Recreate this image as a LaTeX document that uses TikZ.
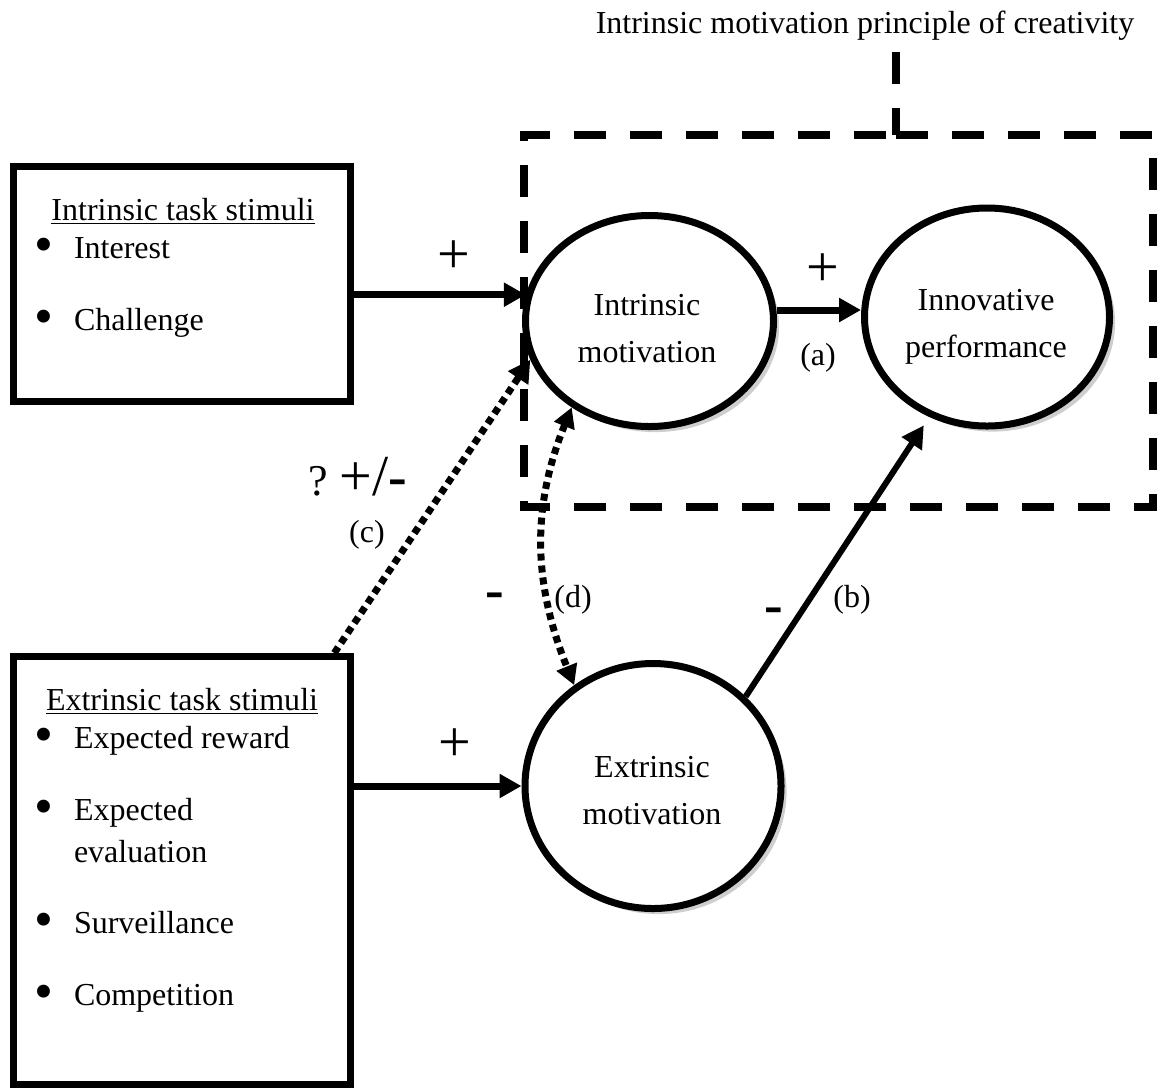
\documentclass[tikz,border=0pt]{standalone}
\usepackage{fontspec}
\setmainfont{Liberation Serif}
\usetikzlibrary{arrows.meta,shapes.geometric,shadows}
\newcommand{\mysymfs}{\fontsize{29pt}{31pt}\selectfont}
\newcommand{\mynegfs}{\fontsize{28pt}{30pt}\selectfont\bfseries}
\newcommand{\myqfs}{\fontsize{22pt}{24pt}\selectfont}
\begin{document}
\begin{tikzpicture}[x=0.5pt,y=-0.5pt,
  txt/.style={font=\fontsize{16pt}{19pt}\selectfont, inner sep=0pt, outer sep=0pt},
  bul/.style={font=\fontsize{27pt}{29pt}\selectfont, inner sep=0pt, outer sep=0pt},
  sym/.style={font=\mysymfs, inner sep=0pt},
  neg/.style={font=\mynegfs, inner sep=0pt},
  stimbox/.style={draw, line width=3.5pt, inner sep=0pt, minimum width=168.5pt},
  motiv/.style={ellipse, draw, line width=3.5pt, fill=white, inner sep=0pt,
    drop shadow={shadow xshift=2.8pt, shadow yshift=-2.8pt, fill=black!55, opacity=0.35}},
  frame/.style={line width=4pt, dash pattern=on 16pt off 12pt},
  link/.style={line width=3.5pt, -{Triangle[length=11pt,width=11.5pt]}},
  dotlink/.style={line width=3.5pt, dash pattern=on 3.5pt off 2.5pt},
]
\useasboundingbox (0,0) rectangle (1159,1088);

% boxes
\node[stimbox, minimum height=117.5pt] (ibox) at (182,284) {};
\node[stimbox, minimum height=214pt] (ebox) at (182,870.5) {};

% motivation ellipses
\node[motiv, minimum width=124pt, minimum height=105.5pt] (imot) at (649.5,321) {};
\node[motiv, minimum width=122.5pt, minimum height=109pt] (inno) at (987,317) {};
\node[motiv, minimum width=128pt, minimum height=122.5pt] (emot) at (653,786) {};

% dashed frame with leader
\node[inner sep=0pt, outer sep=0pt, minimum width=314.5pt, minimum height=186pt] (imp) at (838.5,321) {};
\coordinate (lead) at (896,52);
\draw[frame] (lead |- imp.north) -- (imp.north east) -- (imp.south east) -- (imp.south west) -- (imp.north west) -- cycle;
\draw[frame] (lead) -- (lead |- imp.north);

% texts
\node[txt, anchor=base] (title) at (865,33) {Intrinsic motivation principle of creativity};
\node[txt, anchor=base] (imot1) at (647,315) {Intrinsic};
\node[txt, anchor=base] (imot2) at (647,362) {motivation};
\node[txt, anchor=base] (inno1) at (986,310) {Innovative};
\node[txt, anchor=base] (inno2) at (986,357) {performance};
\node[txt, anchor=base] (emot1) at (652,777) {Extrinsic};
\node[txt, anchor=base] (emot2) at (652,824) {motivation};

\node[txt, anchor=base] (ititle) at (183,220) {\underline{Intrinsic task stimuli}};
\node[bul] (ib1) at (44,250) {•};
\node[txt, anchor=base west] (it1) at (74,258) {Interest};
\node[bul] (ib2) at (44,322) {•};
\node[txt, anchor=base west] (it2) at (74,330) {Challenge};

\node[txt, anchor=base] (etitle) at (182,710) {\underline{Extrinsic task stimuli}};
\node[bul] (eb1) at (44,740) {•};
\node[txt, anchor=base west] (et1) at (74,748) {Expected reward};
\node[bul] (eb2) at (44,812) {•};
\node[txt, anchor=base west] (et2) at (74,820) {Expected};
\node[txt, anchor=base west] (et2b) at (74,862) {evaluation};
\node[bul] (eb3) at (44,925) {•};
\node[txt, anchor=base west] (et3) at (74,933) {Surveillance};
\node[bul] (eb4) at (44,997) {•};
\node[txt, anchor=base west] (et4) at (74,1005) {Competition};

% connectors
\draw[link] (ibox.east |- imot.168) -- (imot.168);
\draw[link] ([yshift=5.5pt]imot.east) -- ([yshift=5.5pt]imot.east -| inno.west);
\draw[link] (ebox.east |- emot.west) -- (emot.west);
\draw[link, line width=3pt, shorten >=5pt] (emot.44) -- (inno.240);
\draw[dotlink, -{Triangle[length=11pt,width=11.5pt]}] (ebox.55) -- (imot.198);
\draw[dotlink, {Triangle[length=10pt,width=10.5pt]}-{Triangle[length=10pt,width=10.5pt]}] (imot.228) to[out=248,in=112] (emot.128);

% labels
\node[sym] (pi) at (454,257) {+};
\node[sym] (pa) at (823,270) {+};
\node[sym] (pe) at (455,745) {+};
\node[txt] (la) at (818,358) {(a)};
\node[txt] (lb) at (852,600) {(b)};
\node[txt] (lc) at (367,535) {(c)};
\node[txt] (ld) at (573,600) {(d)};
\node[neg] (nd) at (495,601) {-};
\node[neg] (nb) at (774,616) {-};
\node[anchor=base west, inner sep=0pt] (lq) at (308,495) {{\myqfs ?}\hspace{6pt}{\mysymfs +/}{\mynegfs -}};
\end{tikzpicture}
\end{document}
